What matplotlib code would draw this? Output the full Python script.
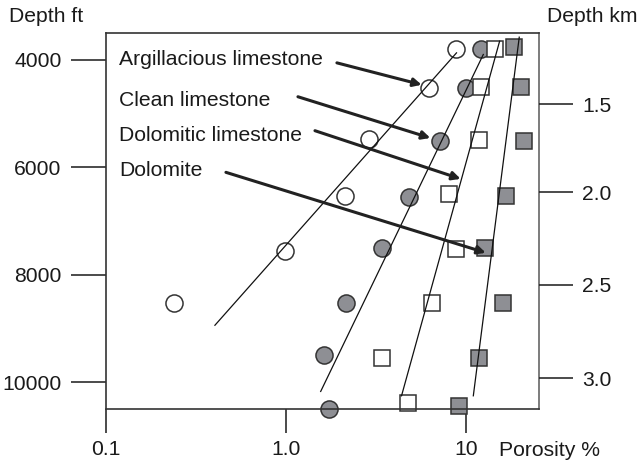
import matplotlib
matplotlib.use('Agg')
import matplotlib.pyplot as plt
from matplotlib.ticker import NullLocator

plt.rcParams['font.family'] = ['Liberation Sans', 'DejaVu Sans']

# porosity (%) vs depth (ft)
argil_por = [8.8, 6.25, 2.9, 2.13, 0.99, 0.239]
argil_dep = [3790, 4533, 5473, 6526, 7561, 8533]

clean_por = [12.2, 9.96, 7.17, 4.84, 3.40, 2.17, 1.63, 1.73]
clean_dep = [3790, 4533, 5510, 6550, 7498, 8520, 9490, 10493]

dolim_por = [14.6, 12.2, 11.8, 8.07, 8.8, 6.45, 3.40, 4.74]
dolim_dep = [3790, 4500, 5490, 6490, 7530, 8533, 9555, 10396]

dolo_por = [18.5, 20.2, 21.0, 16.7, 12.7, 16.0, 11.8, 9.19]
dolo_dep = [3764, 4500, 5510, 6540, 7498, 8533, 9555, 10440]

# trend lines (end points)
argil_fit_por = [0.403, 8.87]
argil_fit_dep = [8941, 3870]
clean_fit_por = [1.56, 12.5]
clean_fit_dep = [10173, 3900]
dolim_fit_por = [4.39, 15.4]
dolim_fit_dep = [10254, 3653]
dolo_fit_por = [11.0, 19.8]
dolo_fit_dep = [10254, 3578]

labels = ['Argillacious limestone', 'Clean limestone', 'Dolomitic limestone', 'Dolomite']
label_dep = [4000, 4762, 5412, 6062]
arrow_start = [(1.92, 4056), (1.166, 4687), (1.45, 5319), (0.464, 6094)]
arrow_end = [(5.68, 4464), (6.35, 5455), (9.35, 6216), (12.9, 7591)]

ft_ticks = [4000, 6000, 8000, 10000]
km_tick_ft = [4823, 6465, 8185, 9926]
km_labels = ['1.5', '2.0', '2.5', '3.0']
x_ticks = [0.1, 1.0, 10]
x_labels = ['0.1', '1.0', '10']

gray = '#8e8f94'
edge = '#333333'
txt = '#1a1a1a'
fs = 15.2

fig = plt.figure(figsize=(6.42, 4.62), dpi=100)
ax = fig.add_axes([0.1651, 0.1147, 0.6745, 0.8139])
ax.set_xscale('log')

ax.plot(argil_por, argil_dep, 'o', ms=12.3, mfc='white', mec=edge, mew=1.1, zorder=2, clip_on=False)
ax.plot(clean_por, clean_dep, 'o', ms=12.3, mfc=gray, mec=edge, mew=1.1, zorder=2, clip_on=False)
ax.plot(dolim_por, dolim_dep, 's', ms=11, mfc='white', mec=edge, mew=1.1, zorder=2, clip_on=False)
ax.plot(dolo_por, dolo_dep, 's', ms=11, mfc=gray, mec=edge, mew=1.1, zorder=2, clip_on=False)

for fx, fy in [(argil_fit_por, argil_fit_dep), (clean_fit_por, clean_fit_dep),
               (dolim_fit_por, dolim_fit_dep), (dolo_fit_por, dolo_fit_dep)]:
    ax.plot(fx, fy, color='#111111', lw=0.9, zorder=3)

for lab, d, s, e in zip(labels, label_dep, arrow_start, arrow_end):
    ax.text(0.118, d, lab, fontsize=fs, va='center', ha='left', color=txt)
    ax.annotate('', xy=e, xytext=s,
                arrowprops=dict(arrowstyle='-|>', lw=2.2, color='#222222',
                                mutation_scale=12, shrinkA=0, shrinkB=0),
                zorder=4)

ax.set_xlim(0.1, 25.5)
ax.set_ylim(10500, 3500)

ax.xaxis.set_minor_locator(NullLocator())
ax.yaxis.set_minor_locator(NullLocator())
ax.set_xticks(x_ticks)
ax.set_xticklabels(x_labels)
ax.set_yticks(ft_ticks)
ax.set_yticklabels([str(t) for t in ft_ticks])
ax.tick_params(axis='y', direction='out', length=25, width=1.1, pad=7,
               labelsize=fs, colors=txt)
ax.tick_params(axis='x', direction='out', length=17.5, width=1.1, pad=5,
               labelsize=fs, colors=txt)

for s in ax.spines.values():
    s.set_linewidth(1.2)
    s.set_color('#333333')
ax.spines['right'].set_color('#666666')

ax2 = ax.twinx()
ax2.set_ylim(10500, 3500)
ax2.set_yticks(km_tick_ft)
ax2.set_yticklabels(km_labels)
ax2.yaxis.set_minor_locator(NullLocator())
ax2.tick_params(axis='y', direction='out', length=24.5, width=1.1, pad=6.5,
                labelsize=fs, colors=txt)
for s in ax2.spines.values():
    s.set_visible(False)

fig.text(9 / 642, 1 - 17 / 462, 'Depth ft', fontsize=fs, ha='left', va='center', color=txt)
fig.text(547 / 642, 1 - 17 / 462, 'Depth km', fontsize=fs, ha='left', va='center', color=txt)
fig.text(499 / 642, 1 - 450 / 462, 'Porosity %', fontsize=fs, ha='left', va='center', color=txt)

fig.savefig('out.png', dpi=100)
